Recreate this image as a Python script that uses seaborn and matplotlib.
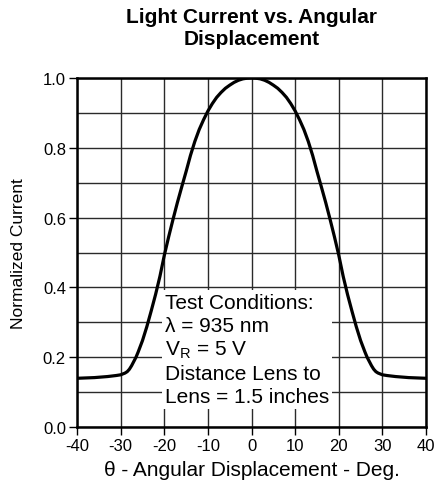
import numpy as np
import pandas as pd
import matplotlib
matplotlib.use("Agg")
import matplotlib.pyplot as plt
import seaborn as sns

# Values (left half, mirrored about 0)
half_angle = [-40, -36, -33, -31, -30, -29, -28.5, -28, -27.5, -27, -26.5, -26,
              -25, -24, -23, -22, -21, -20, -19, -18, -17, -16, -15, -14, -13,
              -12, -11, -10, -9, -8, -7, -6, -5, -4, -3, -2, -1, 0]
half_current = [0.140, 0.142, 0.145, 0.148, 0.150, 0.155, 0.159, 0.166, 0.176,
                0.188, 0.200, 0.215, 0.248, 0.288, 0.333, 0.380, 0.432, 0.492,
                0.545, 0.595, 0.643, 0.688, 0.732, 0.778, 0.818, 0.852, 0.880,
                0.905, 0.926, 0.944, 0.958, 0.970, 0.979, 0.987, 0.993, 0.997,
                0.999, 1.0]

angle = half_angle + [-a for a in half_angle[-2::-1]]
current = half_current + half_current[-2::-1]
df = pd.DataFrame({"angle": angle, "current": current})

x_ticks = [-40, -30, -20, -10, 0, 10, 20, 30, 40]
y_ticks = [0.0, 0.2, 0.4, 0.6, 0.8, 1.0]
y_grid = [0.1, 0.3, 0.5, 0.7, 0.9]

conditions = ("Test Conditions:\n"
              "\u03bb = 935 nm\n"
              "V$_\\mathregular{R}$ = 5 V\n"
              "Distance Lens to\n"
              "Lens = 1.5 inches")

sns.set_style("white")
plt.rcParams["font.family"] = ["Liberation Sans", "DejaVu Sans"]
plt.rcParams["axes.unicode_minus"] = False
plt.rcParams["text.color"] = "black"
plt.rcParams["axes.labelcolor"] = "black"
plt.rcParams["xtick.color"] = "black"
plt.rcParams["ytick.color"] = "black"

fig = plt.figure(figsize=(4.48, 5.02), dpi=100)
ax = fig.add_axes([0.172, 0.147, 0.779, 0.696])

sns.lineplot(data=df, x="angle", y="current", color="black", lw=2.3,
             ax=ax, zorder=5)

ax.set_xlim(-40, 40)
ax.set_ylim(0, 1.0)
ax.set_xticks(x_ticks)
ax.set_yticks(y_ticks)
ax.set_yticks(y_grid, minor=True)
ax.set_yticklabels([f"{v:.1f}" for v in y_ticks])
for lab in ax.get_xticklabels() + ax.get_yticklabels():
    lab.set_fontsize(12)

ax.grid(True, which="both", color="#2a2a2a", lw=1.0)
ax.tick_params(axis="both", which="major", direction="out", length=6,
               width=1, color="black", labelcolor="black", pad=2,
               bottom=True, left=True)
ax.tick_params(axis="y", which="minor", length=0)
for s in ax.spines.values():
    s.set_color("black")
    s.set_linewidth(1.8)

ax.text(-19.9, 0.385, conditions, ha="left", va="top", fontsize=15,
        linespacing=1.26, zorder=4, color="black",
        bbox=dict(facecolor="white", edgecolor="none", pad=2))

ax.set_xlabel("\u03b8 - Angular Displacement - Deg.", fontsize=15, labelpad=5)
ax.set_ylabel("Normalized Current", fontsize=12.5, labelpad=12)
ax.set_title("Light Current vs. Angular\nDisplacement", fontsize=15,
             fontweight="bold", pad=24, linespacing=1.2, color="black")

fig.savefig("out.png", dpi=100)
